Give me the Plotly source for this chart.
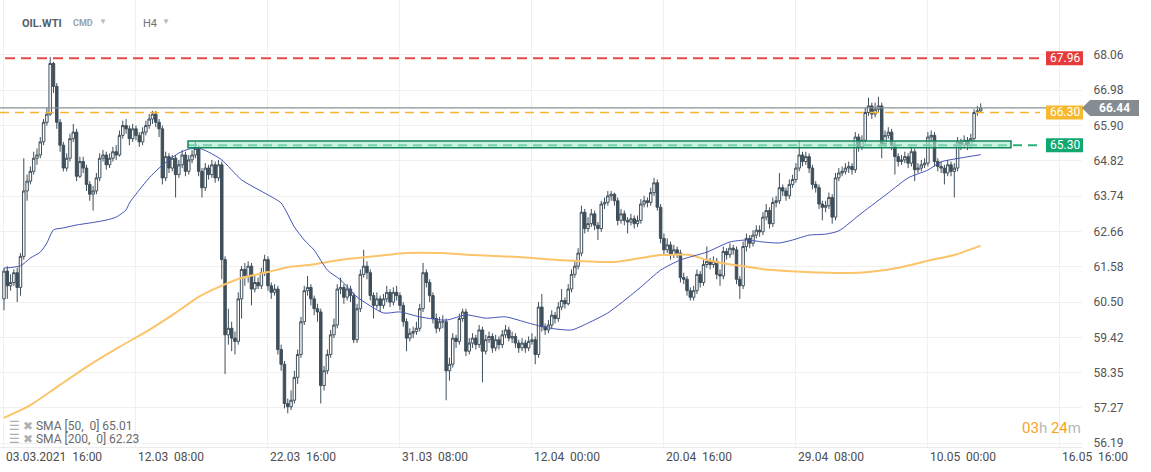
import plotly.graph_objects as go

# ---------------- data ----------------
first_open = 60.60
close = [
    61.45, 61.00, 61.10, 61.40, 60.95, 61.90, 63.90, 64.20, 64.50, 64.90,
    65.00, 65.40, 66.00, 66.25, 67.80, 67.10, 66.00, 65.30, 64.60, 64.90,
    65.50, 65.70, 64.35, 64.80, 64.60, 64.10, 63.80, 63.90, 64.30, 64.90,
    65.00, 64.70, 64.90, 65.10, 65.00, 65.60, 65.90, 65.80, 65.50, 65.80,
    65.60, 65.40, 65.70, 65.90, 66.10, 66.25, 66.00, 65.80, 64.30, 64.95,
    64.60, 64.90, 64.40, 64.70, 65.00, 64.50, 64.85, 65.00, 65.20, 64.50,
    64.00, 64.60, 64.40, 64.70, 64.30, 64.70, 61.80, 59.50, 59.70, 59.40,
    59.30, 60.60, 61.50, 61.30, 61.60, 60.90, 61.10, 61.00, 61.40, 61.80,
    61.00, 60.80, 60.90, 59.05, 58.60, 57.40, 57.30, 57.50, 58.20, 58.90,
    59.90, 60.85, 60.95, 60.60, 60.30, 60.20, 57.95, 58.40, 58.90, 59.50,
    59.80, 60.90, 60.95, 60.65, 60.90, 60.70, 59.35, 60.30, 61.35, 61.60,
    61.40, 60.70, 60.40, 60.60, 60.40, 60.60, 60.80, 60.50, 60.80, 60.70,
    60.40, 59.90, 59.40, 59.55, 59.60, 59.70, 60.30, 61.40, 61.10, 60.70,
    60.00, 59.70, 59.90, 59.90, 58.40, 58.60, 59.40, 59.30, 60.00, 60.20,
    59.00, 59.25, 59.40, 59.20, 59.65, 59.00, 59.35, 59.45, 59.10, 59.35,
    59.20, 59.50, 59.65, 59.40, 59.45, 59.25, 59.10, 59.25, 59.10, 59.30,
    59.35, 58.90, 60.35, 59.75, 59.65, 59.80, 60.10, 60.00, 60.35, 60.55,
    60.45, 60.90, 61.35, 61.60, 62.00, 63.25, 62.75, 62.90, 63.20, 62.85,
    62.75, 63.50, 63.55, 63.75, 63.80, 63.60, 63.00, 63.20, 63.00, 62.95,
    63.05, 62.90, 63.00, 63.50, 63.60, 63.55, 63.85, 64.15, 63.40, 62.45,
    62.10, 62.25, 61.95, 62.10, 62.00, 61.25, 61.20, 60.85, 60.65, 60.85,
    61.35, 61.10, 61.65, 61.75, 61.65, 61.75, 61.35, 61.30, 62.05, 61.95,
    62.15, 62.10, 61.20, 61.00, 62.20, 62.45, 62.30, 62.55, 62.70, 62.65,
    63.10, 63.30, 62.90, 63.55, 63.60, 64.00, 63.90, 63.75, 64.10, 64.25,
    64.60, 65.00, 64.80, 64.95, 64.60, 64.10, 64.00, 63.50, 63.40, 63.45,
    63.70, 63.10, 64.30, 64.45, 64.50, 64.60, 64.65, 64.55, 65.55, 65.25,
    65.45, 66.30, 66.50, 66.25, 66.40, 66.50, 65.35, 65.60, 65.70, 65.30,
    64.95, 64.80, 64.85, 64.95, 64.75, 65.10, 64.55, 64.60, 64.70, 64.75,
    65.55, 65.60, 64.80, 64.65, 64.60, 64.45, 64.70, 64.50, 64.60, 65.40,
    65.30, 65.45, 65.30, 65.50, 66.30, 66.35, 66.44,
]
high = [
    61.55, 61.60, 61.35, 61.50, 61.55, 62.00, 64.90, 64.40, 64.65, 65.10,
    65.20, 65.55, 66.10, 66.45, 68.00, 67.85, 67.20, 66.10, 65.40, 65.05,
    65.65, 65.95, 65.80, 64.95, 64.95, 64.70, 64.20, 64.05, 64.45, 65.05,
    65.15, 65.10, 65.05, 65.25, 65.30, 65.75, 66.05, 66.10, 65.90, 65.95,
    65.90, 65.70, 65.85, 66.05, 66.25, 66.35, 66.35, 66.10, 65.90, 65.10,
    65.05, 65.00, 65.00, 64.85, 65.15, 65.10, 65.00, 65.15, 65.40, 65.30,
    64.60, 64.75, 64.70, 64.85, 64.80, 64.85, 64.80, 61.90, 60.30, 59.90,
    59.60, 60.80, 61.60, 61.70, 61.75, 61.70, 61.30, 61.25, 61.55, 61.95,
    61.90, 61.10, 61.05, 61.00, 59.20, 58.70, 57.55, 57.80, 58.40, 59.05,
    60.05, 61.00, 61.30, 61.05, 60.70, 60.45, 60.30, 58.55, 59.05, 59.65,
    60.00, 61.05, 61.25, 61.05, 61.05, 61.00, 60.80, 60.45, 61.50, 62.10,
    61.75, 61.50, 60.80, 60.80, 60.70, 60.75, 61.00, 60.90, 60.95, 61.00,
    60.80, 60.50, 60.00, 59.70, 59.75, 59.90, 60.45, 61.70, 61.50, 61.20,
    60.80, 60.15, 60.05, 60.10, 60.00, 58.80, 59.55, 59.50, 60.15, 60.30,
    60.30, 59.40, 59.55, 59.50, 59.80, 59.75, 59.50, 59.60, 59.55, 59.50,
    59.45, 59.65, 59.80, 59.75, 59.60, 59.55, 59.35, 59.40, 59.35, 59.45,
    59.55, 59.45, 60.50, 60.75, 59.85, 59.95, 60.25, 60.20, 60.50, 60.90,
    60.65, 61.05, 61.50, 61.75, 62.15, 63.45, 63.35, 63.10, 63.35, 63.30,
    62.95, 63.60, 63.70, 63.90, 63.90, 63.85, 63.70, 63.35, 63.30, 63.10,
    63.20, 63.15, 63.15, 63.65, 63.75, 63.70, 64.00, 64.30, 64.25, 63.50,
    62.60, 62.45, 62.35, 62.25, 62.20, 62.10, 61.40, 61.30, 60.95, 61.00,
    61.50, 61.45, 61.80, 62.20, 61.85, 61.90, 61.85, 61.50, 62.20, 62.15,
    62.30, 62.25, 62.20, 61.30, 62.35, 62.60, 62.55, 62.70, 62.85, 62.85,
    63.25, 63.50, 63.40, 63.70, 63.75, 64.45, 64.10, 64.00, 64.25, 64.40,
    64.75, 65.45, 65.10, 65.10, 65.05, 64.70, 64.20, 64.10, 63.60, 63.60,
    63.85, 63.80, 64.45, 64.60, 64.65, 64.75, 64.80, 64.75, 65.70, 65.65,
    65.60, 66.45, 66.75, 66.60, 66.60, 66.78, 66.60, 65.75, 65.85, 65.80,
    65.40, 65.05, 65.00, 65.10, 65.05, 65.25, 65.20, 64.75, 64.85, 64.90,
    65.70, 65.75, 65.70, 64.90, 64.80, 64.70, 64.85, 64.80, 64.75, 65.55,
    65.50, 65.60, 65.55, 65.65, 66.40, 66.50, 66.58,
]
low = [
    60.25, 60.60, 60.85, 61.00, 60.50, 60.70, 61.80, 63.60, 64.10, 64.40,
    64.70, 64.90, 65.30, 65.90, 66.20, 66.90, 65.80, 65.10, 64.50, 64.50,
    64.80, 65.40, 64.20, 64.30, 64.45, 63.90, 63.60, 63.30, 63.80, 64.20,
    64.80, 64.55, 64.60, 64.80, 64.85, 64.95, 65.50, 65.65, 65.30, 65.40,
    65.45, 65.25, 65.30, 65.60, 65.80, 65.95, 65.85, 65.55, 64.10, 64.20,
    64.45, 64.50, 63.70, 64.30, 64.60, 64.35, 64.40, 64.75, 64.90, 64.35,
    63.70, 63.90, 64.25, 64.30, 64.15, 64.20, 61.20, 58.30, 59.20, 59.00,
    58.90, 59.20, 60.00, 61.00, 61.10, 60.40, 60.80, 60.90, 60.90, 61.30,
    60.85, 60.60, 60.70, 58.90, 58.40, 57.25, 57.10, 57.20, 57.40, 58.00,
    58.80, 59.80, 60.70, 60.40, 60.10, 59.90, 57.40, 57.80, 58.30, 58.80,
    59.40, 59.70, 60.75, 60.45, 60.55, 60.50, 59.25, 59.25, 60.20, 61.25,
    61.20, 60.55, 60.00, 60.30, 60.20, 60.30, 60.50, 60.35, 60.40, 60.55,
    60.25, 59.75, 59.00, 59.30, 59.40, 59.50, 59.60, 60.20, 60.95, 60.50,
    59.85, 59.55, 59.60, 59.70, 57.50, 58.10, 58.50, 59.10, 59.20, 59.90,
    58.85, 58.90, 59.10, 59.05, 59.10, 58.05, 58.90, 59.25, 58.95, 59.00,
    59.05, 59.10, 59.40, 59.30, 59.25, 59.10, 58.95, 59.00, 58.95, 59.00,
    59.20, 58.60, 58.80, 59.60, 59.50, 59.55, 59.70, 59.85, 59.90, 60.25,
    60.30, 60.40, 60.80, 61.25, 61.50, 61.90, 62.60, 62.65, 62.80, 62.70,
    62.40, 62.65, 63.35, 63.45, 63.60, 63.45, 62.85, 62.90, 62.85, 62.60,
    62.85, 62.75, 62.80, 62.90, 63.40, 63.40, 63.45, 63.75, 63.30, 62.30,
    61.95, 62.00, 61.80, 61.85, 61.85, 61.10, 61.05, 60.70, 60.55, 60.55,
    60.75, 60.95, 61.00, 61.55, 61.50, 61.55, 61.20, 61.00, 61.20, 61.80,
    61.85, 61.95, 61.05, 60.60, 60.90, 62.05, 62.15, 62.20, 62.45, 62.50,
    62.55, 63.00, 62.75, 62.80, 63.40, 63.50, 63.75, 63.60, 63.65, 64.00,
    64.15, 64.50, 64.65, 64.70, 64.45, 63.95, 63.85, 63.35, 63.00, 63.25,
    63.35, 62.90, 63.00, 64.20, 64.35, 64.40, 64.45, 64.40, 64.45, 65.10,
    65.15, 65.35, 66.20, 66.10, 66.15, 66.30, 64.90, 65.25, 65.50, 65.15,
    64.40, 64.65, 64.70, 64.75, 64.60, 64.65, 64.20, 64.45, 64.50, 64.60,
    64.65, 65.40, 64.65, 64.50, 64.45, 64.10, 64.35, 64.35, 63.70, 64.50,
    65.15, 65.20, 65.15, 65.20, 65.40, 66.20, 66.30,
]

# moving averages at a number of bars
sma50_bar = [0, 5, 8, 11, 13, 15, 18, 22, 26, 31, 34, 37, 38, 41, 44, 47, 50, 53, 56, 59,
             62, 66, 72, 80, 84, 88, 91, 94, 98, 102, 107, 115, 120, 126, 134, 140, 146, 152,
             159, 165, 172, 177, 183, 187, 193, 199, 205, 213, 220, 225, 230, 235, 239, 244,
             249, 253, 260, 268, 274, 280, 284, 290, 296]
sma50_val = [61.54, 61.61, 61.85, 62.03, 62.31, 62.71, 62.77, 62.86, 62.92, 63.01, 63.10,
             63.32, 63.53, 63.93, 64.30, 64.60, 64.85, 65.06, 65.18, 65.21, 65.09, 64.85,
             64.24, 63.78, 63.53, 62.80, 62.40, 62.09, 61.48, 61.18, 60.66, 60.17, 60.20,
             60.05, 59.95, 60.11, 60.01, 60.05, 59.86, 59.71, 59.65, 59.86, 60.17, 60.47,
             60.96, 61.48, 61.79, 62.03, 62.34, 62.40, 62.34, 62.31, 62.40, 62.55, 62.58,
             62.68, 63.23, 63.84, 64.30, 64.54, 64.79, 64.91, 65.01]
sma200_bar = [0, 8, 17, 26, 35, 44, 52, 59, 65, 72, 80, 86, 93, 98, 104, 110, 116, 122,
              132, 142, 156, 168, 185, 193, 199, 208, 213, 223, 233, 243, 256, 262, 272,
              281, 288, 296]
sma200_val = [56.96, 57.35, 57.97, 58.58, 59.13, 59.65, 60.17, 60.66, 60.96, 61.24, 61.42,
              61.57, 61.64, 61.73, 61.82, 61.88, 61.94, 62.00, 62.00, 61.94, 61.88, 61.79,
              61.73, 61.85, 61.94, 61.94, 61.79, 61.61, 61.48, 61.42, 61.39, 61.42, 61.57,
              61.79, 61.94, 62.23]

x_tick_bar = [0, 40, 80, 120, 160, 200, 240, 280, 320]
x_tick_text = ["03.03.2021  16:00", "12.03  08:00", "22.03  16:00", "31.03  08:00",
               "12.04  00:00", "20.04  16:00", "29.04  08:00", "10.05  00:00", "16.05  16:00"]
y_ticks = [56.19, 57.27, 58.35, 59.42, 60.50, 61.58, 62.66, 63.74, 64.82, 65.90, 66.98, 68.06]

level_red = 67.96
level_orange = 66.30
level_green = 65.30
zone_low, zone_high = 65.22, 65.43
last_price = 66.44
sma50_last = 65.01
sma200_last = 62.23

# ---------------- layout geometry ----------------
W, H = 1151, 472
PL, PR, PT, PB = 0, 69, 0, 25
PW = W - PL - PR          # plot width in px
PH = H - PT - PB          # plot height in px
Y_RANGE = [56.07, 69.74]
X_RANGE = [-1.21, 326.7]


def px(xp):
    return xp / PW


def py(yp):
    return (PH - yp) / PH


def units_per_px():
    return (Y_RANGE[1] - Y_RANGE[0]) / PH


FONT = "Roboto, Arial, sans-serif"
CANDLE = "#3f4f5a"

bars = list(range(len(close)))
opens = [first_open] + close[:-1]

fig = go.Figure()
fig.add_trace(go.Candlestick(
    x=bars, open=opens, high=high, low=low, close=close,
    increasing=dict(line=dict(color=CANDLE, width=1), fillcolor="#ffffff"),
    decreasing=dict(line=dict(color=CANDLE, width=1), fillcolor=CANDLE),
    whiskerwidth=0, hoverinfo="skip", showlegend=False,
))
fig.add_trace(go.Scatter(x=sma200_bar, y=sma200_val, mode="lines",
                         line=dict(color="#fcc46a", width=2, shape="spline", smoothing=0.6),
                         hoverinfo="skip", showlegend=False))
fig.add_trace(go.Scatter(x=sma50_bar, y=sma50_val, mode="lines",
                         line=dict(color="#4452b8", width=1, shape="spline", smoothing=0.6),
                         hoverinfo="skip", showlegend=False))

shapes = []
# level lines
shapes.append(dict(type="line", xref="paper", yref="y", x0=px(5), x1=px(1040),
                   y0=level_red, y1=level_red,
                   line=dict(color="#e94848", width=2, dash="10px,6px")))
shapes.append(dict(type="line", xref="paper", yref="y", x0=0, x1=1,
                   y0=last_price, y1=last_price, line=dict(color="#8b9196", width=1.2)))
shapes.append(dict(type="line", xref="paper", yref="y", x0=0, x1=px(1040),
                   y0=level_orange, y1=level_orange,
                   line=dict(color="#f6b630", width=1.5, dash="9px,6px")))
shapes.append(dict(type="line", xref="paper", yref="y", x0=px(188), x1=px(1040),
                   y0=level_green, y1=level_green,
                   line=dict(color="#27b37c", width=2, dash="9px,6px")))
shapes.append(dict(type="rect", xref="paper", yref="y", x0=px(188), x1=px(1011),
                   y0=zone_low, y1=zone_high, fillcolor="rgba(170,230,205,0.6)",
                   line=dict(color="#12875a", width=1.5)))

# price boxes on the right
half = 7 * units_per_px()
for val, col in [(level_red, "#e53b3b"), (level_orange, "#f7b92d"), (level_green, "#10a870")]:
    shapes.append(dict(type="rect", xref="paper", yref="y", x0=px(1046), x1=px(1083),
                       y0=val - half, y1=val + half, fillcolor=col, line=dict(width=0),
                       layer="above"))
th = 8 * units_per_px()
shapes.append(dict(type="path", xref="paper", yref="y", layer="above",
                   path=(f"M {px(1082)} {last_price} L {px(1090)} {last_price + th} "
                         f"L {px(1139)} {last_price + th} L {px(1139)} {last_price - th} "
                         f"L {px(1090)} {last_price - th} Z"),
                   fillcolor="#868d92", line=dict(width=0)))

ann = []
for val in [level_red, level_orange, level_green]:
    ann.append(dict(xref="paper", yref="y", x=px(1064.5), y=val, text=f"{val:.2f}",
                    showarrow=False, font=dict(family=FONT, size=12, color="#ffffff"),
                    xanchor="center", yanchor="middle"))
ann.append(dict(xref="paper", yref="y", x=px(1114.5), y=last_price, text=f"<b>{last_price:.2f}</b>",
                showarrow=False, font=dict(family=FONT, size=12, color="#ffffff"),
                xanchor="center", yanchor="middle"))

# x tick labels, left aligned on their grid line
for b, t in zip(x_tick_bar, x_tick_text):
    ann.append(dict(xref="x", yref="paper", x=b, y=0, text=t.replace(" ", "\u00a0"),
                    showarrow=False, xanchor="left", yanchor="top", xshift=0, yshift=-1,
                    font=dict(family=FONT, size=12, color="#4d4d4d")))

# header
ann.append(dict(xref="paper", yref="paper", x=px(20), y=py(23), text="<b>OIL.WTI</b>",
                showarrow=False, xanchor="left", yanchor="middle",
                font=dict(family=FONT, size=11, color="#55606a")))
ann.append(dict(xref="paper", yref="paper", x=px(71), y=py(23), text="<b>CMD</b>",
                showarrow=False, xanchor="left", yanchor="middle",
                font=dict(family=FONT, size=9, color="#9aa2aa")))
ann.append(dict(xref="paper", yref="paper", x=px(97), y=py(22), text="▼",
                showarrow=False, xanchor="left", yanchor="middle",
                font=dict(family=FONT, size=8, color="#b5bbc0")))
ann.append(dict(xref="paper", yref="paper", x=px(141), y=py(23), text="H4",
                showarrow=False, xanchor="left", yanchor="middle",
                font=dict(family=FONT, size=11, color="#6b747b")))
ann.append(dict(xref="paper", yref="paper", x=px(160), y=py(22), text="▼",
                showarrow=False, xanchor="left", yanchor="middle",
                font=dict(family=FONT, size=8, color="#b5bbc0")))

# legend of indicators
for yp, label in [(426, f"SMA [50,\u00a0 0] {sma50_last:.2f}"), (439, f"SMA [200,\u00a0 0] {sma200_last:.2f}")]:
    ann.append(dict(xref="paper", yref="paper", x=px(7), y=py(yp),
                    text=f"<span style='color:#b0b0b0'>☰ ✖</span> {label}",
                    showarrow=False, xanchor="left", yanchor="middle",
                    font=dict(family=FONT, size=12, color="#6a6a6a")))

# countdown
ann.append(dict(xref="paper", yref="paper", x=px(1083), y=py(428),
                text=("<span style='color:#f7a21b'>03</span><span style='color:#b8b8b8'>h</span> "
                      "<span style='color:#f7a21b'>24</span><span style='color:#b8b8b8'>m</span>"),
                showarrow=False, xanchor="right", yanchor="middle",
                font=dict(family=FONT, size=15, color="#f7a21b")))

fig.update_layout(
    width=W, height=H,
    margin=dict(l=PL, r=PR, t=PT, b=PB, pad=0),
    paper_bgcolor="#ffffff", plot_bgcolor="#ffffff",
    showlegend=False, boxgap=0.25, boxgroupgap=0,
    shapes=shapes, annotations=ann,
    font=dict(family=FONT),
    xaxis=dict(range=X_RANGE, tickvals=x_tick_bar, showticklabels=False, showgrid=True,
               gridcolor="#f0f0f0", gridwidth=1, zeroline=False, showline=True,
               linecolor="#ececec", linewidth=1, rangeslider=dict(visible=False), fixedrange=True),
    yaxis=dict(range=Y_RANGE, side="right", tickvals=y_ticks,
               ticktext=[f"{v:.2f}" for v in y_ticks], showgrid=True, gridcolor="#f0f0f0",
               zeroline=False, ticks="outside", ticklen=8, tickcolor="rgba(0,0,0,0)",
               tickfont=dict(family=FONT, size=12, color="#555555"), fixedrange=True),
)

fig.write_html("out.html", config={"displayModeBar": False},
               post_script="document.body.style.margin='0';document.body.style.overflow='hidden';")
